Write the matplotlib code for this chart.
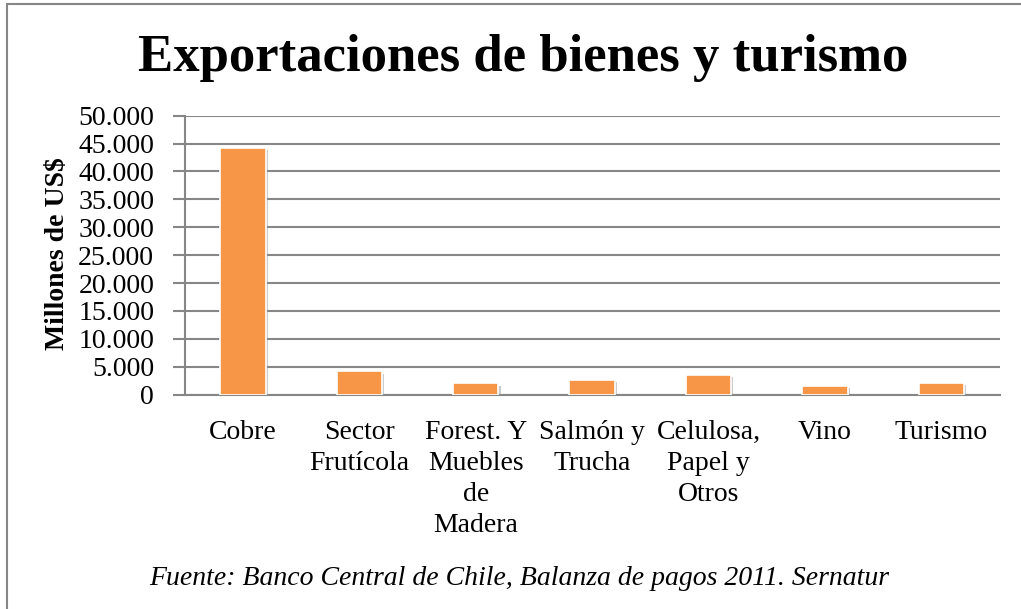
import matplotlib.pyplot as plt
import matplotlib.patheffects as pe
from matplotlib.patches import Rectangle
import numpy as np

# Data (millones de US$)
categories = ['Cobre', 'Sector\nFrutícola', 'Forest. Y\nMuebles\nde\nMadera',
              'Salmón y\nTrucha', 'Celulosa,\nPapel y\nOtros', 'Vino', 'Turismo']
values = [44300, 4150, 2000, 2700, 3500, 1500, 2100]
yticks = [0, 5000, 10000, 15000, 20000, 25000, 30000, 35000, 40000, 45000, 50000]
ytick_labels = ['0', '5.000', '10.000', '15.000', '20.000', '25.000',
                '30.000', '35.000', '40.000', '45.000', '50.000']

plt.rcParams['font.family'] = ['Liberation Serif', 'DejaVu Serif']

fig = plt.figure(figsize=(10.21, 6.09), dpi=100)
ax = fig.add_axes([0.181, 0.352, 0.798, 0.458])

grid_color = '#868686'
x = np.arange(len(categories))
bars = ax.bar(x, values, width=0.39, color='#F79646', edgecolor='white', linewidth=1.2, zorder=3)
for b in bars:
    b.set_path_effects([pe.SimplePatchShadow(offset=(1.5, -1.5), shadow_rgbFace='#999999', alpha=0.5),
                        pe.Normal()])

ax.set_xlim(-0.5, len(categories) - 0.5)
ax.set_ylim(0, 50000)
ax.set_yticks(yticks)
ax.set_yticklabels(ytick_labels, fontsize=20)
ax.set_xticks(x)
ax.set_xticklabels(categories, fontsize=20, linespacing=1.32, va='top')
ax.tick_params(axis='x', length=0, pad=18)
ax.tick_params(axis='y', length=9, width=1.5, color=grid_color, pad=13)

ax.yaxis.grid(True, color=grid_color, linewidth=1.5, zorder=0)
ax.set_axisbelow(True)
for s in ['top', 'right']:
    ax.spines[s].set_visible(False)
for s in ['left', 'bottom']:
    ax.spines[s].set_color(grid_color)
    ax.spines[s].set_linewidth(1.5)

fig.text(0.056, 0.583, 'Millones de US$', rotation=90, fontsize=20, fontweight='bold',
         ha='center', va='center')
fig.text(0.512, 0.905, 'Exportaciones de bienes y turismo', fontsize=38, fontweight='bold',
         ha='center', va='center')
fig.text(0.508, 0.05, 'Fuente: Banco Central de Chile, Balanza de pagos 2011. Sernatur',
         fontsize=20, style='italic', ha='center', va='center')

# outer chart frame (only top and left edges visible in the crop)
fig.patches.append(Rectangle((0.007, -0.05), 1.1, 1.043, transform=fig.transFigure,
                             fill=False, edgecolor=grid_color, linewidth=1.5))

fig.savefig('out.png', dpi=100)
